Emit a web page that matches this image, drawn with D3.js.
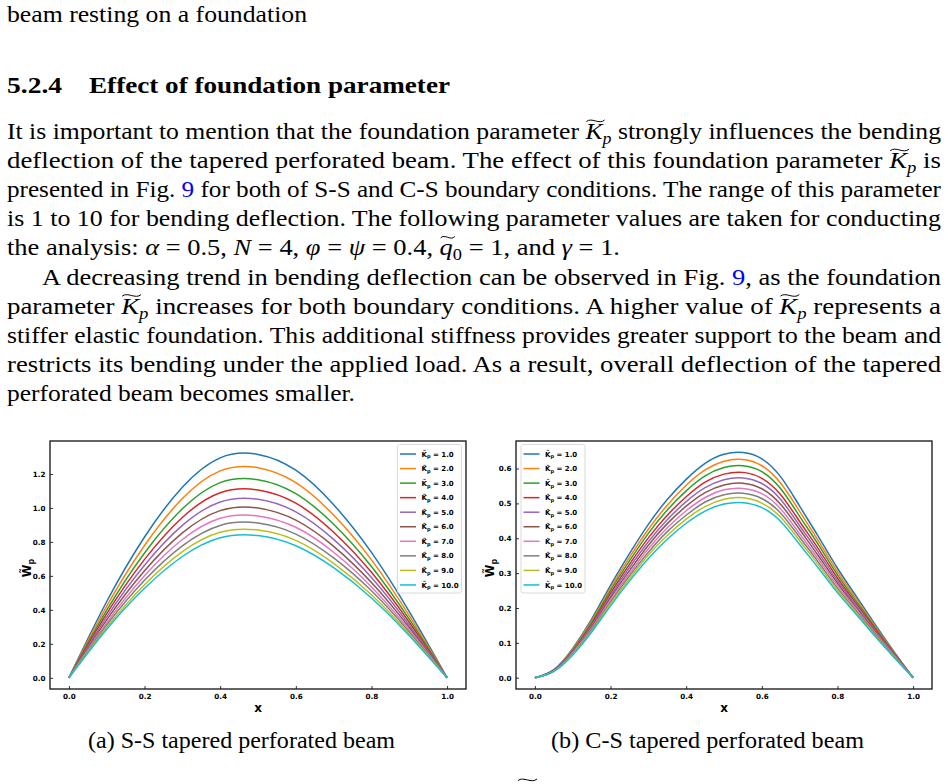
<!DOCTYPE html>
<html>
<head>
<meta charset="utf-8">
<script src="https://cdn.jsdelivr.net/npm/d3@7"></script>
<style>
  body { margin: 0; background: #fff; }
  svg { display: block; }
</style>
</head>
<body>
<svg id="page" width="948" height="784"></svg>
<script>
// ---- data ----
const kpValues = [1.0, 2.0, 3.0, 4.0, 5.0, 6.0, 7.0, 8.0, 9.0, 10.0];
const xTicks = [0.0, 0.2, 0.4, 0.6, 0.8, 1.0];
const ssYTicks = [0.0, 0.2, 0.4, 0.6, 0.8, 1.0, 1.2];
const csYTicks = [0.0, 0.1, 0.2, 0.3, 0.4, 0.5, 0.6];

// (a) S-S beam, deflection at x
const ssX = [0, 0.1, 0.2, 0.3, 0.4, 0.5, 0.6, 0.7, 0.8, 0.9, 1.0];
const ssK1  = [0, .449, .829, 1.122, 1.295, 1.315, 1.222, 1.019, .738, .389, 0];
const ssK2  = [0, .422, .779, 1.055, 1.218, 1.237, 1.149, .958, .694, .366, 0];
const ssK3  = [0, .398, .735, .995, 1.149, 1.166, 1.084, .904, .655, .345, 0];
const ssK4  = [0, .378, .697, .944, 1.089, 1.106, 1.028, .857, .621, .327, 0];
const ssK5  = [0, .359, .663, .897, 1.035, 1.051, .977, .815, .590, .311, 0];
const ssK6  = [0, .341, .630, .853, .984, .999, .928, .774, .561, .296, 0];
const ssK7  = [0, .325, .601, .814, .939, .953, .886, .739, .535, .282, 0];
const ssK8  = [0, .311, .574, .777, .897, .911, .846, .706, .512, .270, 0];
const ssK9  = [0, .297, .548, .743, .857, .870, .809, .674, .489, .258, 0];
const ssK10 = [0, .286, .527, .714, .824, .837, .777, .648, .470, .248, 0];

// (b) C-S beam
const csX = [0, .05, .1, .15, .2, .25, .3, .35, .4, .45, .5, .55, .6, .65, .7, .75, .8, .85, .9, .95, 1.0];
const csK1  = [0, .023, .084, .168, .265, .356, .440, .511, .569, .615, .641, .646, .628, .576, .492, .404, .314, .233, .152, .074, 0];
const csK2  = [0, .022, .082, .163, .257, .345, .426, .495, .552, .596, .621, .626, .608, .558, .477, .392, .304, .226, .147, .072, 0];
const csK3  = [0, .021, .079, .158, .250, .335, .414, .481, .536, .579, .603, .608, .591, .542, .463, .381, .295, .219, .143, .070, 0];
const csK4  = [0, .021, .077, .153, .242, .325, .401, .466, .519, .561, .584, .589, .572, .525, .448, .369, .286, .212, .139, .068, 0];
const csK5  = [0, .020, .075, .149, .235, .316, .390, .453, .505, .545, .568, .573, .557, .511, .436, .359, .278, .207, .135, .066, 0];
const csK6  = [0, .020, .073, .145, .229, .307, .380, .442, .492, .531, .553, .558, .542, .497, .425, .349, .271, .201, .131, .064, 0];
const csK7  = [0, .019, .071, .141, .223, .299, .370, .430, .479, .517, .539, .543, .528, .484, .413, .340, .264, .196, .128, .063, 0];
const csK8  = [0, .019, .069, .138, .217, .292, .360, .419, .466, .504, .525, .529, .514, .472, .403, .331, .257, .191, .125, .061, 0];
const csK9  = [0, .018, .067, .134, .212, .284, .352, .408, .455, .491, .512, .516, .501, .460, .393, .323, .251, .186, .121, .059, 0];
const csK10 = [0, .018, .065, .131, .206, .277, .342, .397, .443, .478, .498, .502, .488, .448, .382, .314, .244, .181, .118, .058, 0];

const ssSeries = [ssK1, ssK2, ssK3, ssK4, ssK5, ssK6, ssK7, ssK8, ssK9, ssK10];
const csSeries = [csK1, csK2, csK3, csK4, csK5, csK6, csK7, csK8, csK9, csK10];

const colors = d3.schemeCategory10;
const serif = "Liberation Serif, Times New Roman, serif";
const sans = "DejaVu Sans, sans-serif";

const svg = d3.select("#page");

// ---- page text ----
function tilde(g, x0, x1, y){
    let w = x1 - x0;
    g.append("path")
        .attr("d", `M${x0},${y + 1.5} C${x0 + w * 0.3},${y - 3} ${x0 + w * 0.7},${y + 5} ${x1},${y}`)
        .attr("fill", "none")
        .attr("stroke", "#000")
        .attr("stroke-width", 1);
}

function drawLine(g, line){
    let t = g.append("text")
        .attr("x", line.x)
        .attr("y", line.y)
        .attr("font-family", serif)
        .attr("font-size", line.size || 23)
        .attr("font-weight", line.bold ? "bold" : "normal")
        .attr("fill", "#000");
    if (line.w) t.attr("textLength", line.w).attr("lengthAdjust", "spacingAndGlyphs");

    let idx = 0;
    let marks = [];
    let shifted = false;
    for (let s of line.segs){
        let ts = t.append("tspan").text(s[0]);
        let f = s.slice(1);
        if (f.includes("i")) ts.attr("font-style", "italic");
        if (f.includes("blue")) ts.attr("fill", "#0000ff");
        if (f.includes("sub")){
            ts.attr("dy", 5).attr("font-size", 16);
            shifted = true;
        } else if (shifted){
            ts.attr("dy", -5);
            shifted = false;
        }
        if (f.includes("tilde")) marks.push(idx);
        idx += s[0].length;
    }
    for (let i of marks){
        let e = t.node().getExtentOfChar(i);
        tilde(g, e.x + 1, e.x + e.width + 2, e.y + 1);
    }
}

const text = svg.append("g");
const L0 = 139, LH = 29.1;
const lines = [
    {x: 7, y: 22, w: 300, segs: [["beam resting on a foundation"]]},
    {x: 7, y: 93, w: 55, bold: true, segs: [["5.2.4"]]},
    {x: 89, y: 93, w: 361, bold: true, segs: [["Effect of foundation parameter"]]},
    {x: 7, y: L0, w: 934, segs: [["It is important to mention that the foundation parameter "], ["K", "i", "tilde"], ["p", "i", "sub"], [" strongly influences the bending"]]},
    {x: 7, y: L0 + LH, w: 934, segs: [["deflection of the tapered perforated beam. The effect of this foundation parameter "], ["K", "i", "tilde"], ["p", "i", "sub"], [" is"]]},
    {x: 7, y: L0 + LH * 2, w: 934, segs: [["presented in Fig. "], ["9", "blue"], [" for both of S-S and C-S boundary conditions. The range of this parameter"]]},
    {x: 7, y: L0 + LH * 3, w: 934, segs: [["is 1 to 10 for bending deflection. The following parameter values are taken for conducting"]]},
    {x: 7, y: L0 + LH * 4, w: 613, segs: [["the analysis: "], ["α", "i"], [" = 0.5, "], ["N", "i"], [" = 4, "], ["φ", "i"], [" = "], ["ψ", "i"], [" = 0.4, "], ["q", "i", "tilde"], ["0", "sub"], [" = 1, and "], ["γ", "i"], [" = 1."]]},
    {x: 42, y: L0 + LH * 5, w: 899, segs: [["A decreasing trend in bending deflection can be observed in Fig. "], ["9", "blue"], [", as the foundation"]]},
    {x: 7, y: L0 + LH * 6, w: 934, segs: [["parameter "], ["K", "i", "tilde"], ["p", "i", "sub"], [" increases for both boundary conditions. A higher value of "], ["K", "i", "tilde"], ["p", "i", "sub"], [" represents a"]]},
    {x: 7, y: L0 + LH * 7, w: 934, segs: [["stiffer elastic foundation. This additional stiffness provides greater support to the beam and"]]},
    {x: 7, y: L0 + LH * 8, w: 934, segs: [["restricts its bending under the applied load. As a result, overall deflection of the tapered"]]},
    {x: 7, y: L0 + LH * 9, w: 348, segs: [["perforated beam becomes smaller."]]},
    {x: 88, y: 748, w: 307, segs: [["(a) S-S tapered perforated beam"]]},
    {x: 551, y: 748, w: 313, segs: [["(b) C-S tapered perforated beam"]]}
];
for (let l of lines) drawLine(text, l);
tilde(text, 518, 537, 779);

// ---- charts ----
function drawChart(g, cfg){
    let x = d3.scaleLinear().domain([-0.05, 1.05]).range([cfg.left, cfg.right]);
    let y = d3.scaleLinear().domain(cfg.yDomain).range([cfg.bottom, cfg.top]);
    let line = d3.line().x(d => x(d[0])).y(d => y(d[1])).curve(d3.curveNatural);

    cfg.series.forEach((vals, i) => {
        g.append("path")
            .datum(cfg.xs.map((xv, j) => [xv, vals[j]]))
            .attr("d", line)
            .attr("fill", "none")
            .attr("stroke", colors[i])
            .attr("stroke-width", 1.5);
    });

    let ax = g.append("g")
        .attr("transform", `translate(0,${cfg.bottom})`)
        .call(d3.axisBottom(x).tickValues(xTicks).tickFormat(d3.format(".1f")).tickSize(-3).tickPadding(4.5));
    let ay = g.append("g")
        .attr("transform", `translate(${cfg.left},0)`)
        .call(d3.axisLeft(y).tickValues(cfg.yTicks).tickFormat(d3.format(".1f")).tickSize(-3).tickPadding(4.5));
    for (let a of [ax, ay]){
        a.select(".domain").remove();
        a.selectAll("line").attr("stroke", "#000").attr("stroke-width", 0.8);
        a.selectAll("text")
            .attr("font-family", sans)
            .attr("font-weight", "bold")
            .attr("font-size", 7.2)
            .attr("fill", "#000");
    }

    g.append("rect")
        .attr("x", cfg.left)
        .attr("y", cfg.top)
        .attr("width", cfg.right - cfg.left)
        .attr("height", cfg.bottom - cfg.top)
        .attr("fill", "none")
        .attr("stroke", "#111")
        .attr("stroke-width", 1.3);

    // x label
    g.append("text")
        .attr("x", (x(0) + x(1)) / 2)
        .attr("y", cfg.bottom + 23)
        .attr("text-anchor", "middle")
        .attr("font-family", sans)
        .attr("font-weight", "bold")
        .attr("font-size", 12)
        .text("x");

    // y label
    let yl = g.append("text")
        .attr("transform", `translate(${cfg.ylabelX},${(cfg.top + cfg.bottom) / 2 + 3}) rotate(-90)`)
        .attr("text-anchor", "middle")
        .attr("font-family", sans)
        .attr("font-weight", "bold")
        .attr("font-size", 11.5);
    yl.append("tspan").text("W\u0303");
    yl.append("tspan").attr("dy", 3).attr("font-size", 8).text("p");

    // legend
    let lg = g.append("g").attr("transform", `translate(${cfg.legendX},${cfg.top + 3.5})`);
    lg.append("rect")
        .attr("width", 64)
        .attr("height", 148.5)
        .attr("rx", 2)
        .attr("fill", "#fff")
        .attr("fill-opacity", 0.8)
        .attr("stroke", "#d0d0d0")
        .attr("stroke-width", 0.8);
    kpValues.forEach((k, i) => {
        let ry = 9.5 + i * 14.55;
        lg.append("line")
            .attr("x1", 2.5).attr("x2", 18.5)
            .attr("y1", ry).attr("y2", ry)
            .attr("stroke", colors[i])
            .attr("stroke-width", 1.5);
        let t = lg.append("text")
            .attr("x", 24)
            .attr("y", ry + 2.6)
            .attr("font-family", sans)
            .attr("font-weight", "bold")
            .attr("font-size", 7);
        t.append("tspan").text("K\u0303");
        t.append("tspan").attr("dy", 1.8).attr("font-size", 5).text("p");
        t.append("tspan").attr("dy", -1.8).text(" = " + d3.format(".1f")(k));
    });
}

drawChart(svg.append("g"), {
    left: 50, right: 466, top: 441, bottom: 689,
    yDomain: [-0.066, 1.394],
    xs: ssX, series: ssSeries, yTicks: ssYTicks,
    legendX: 397.5, ylabelX: 30.5
});

drawChart(svg.append("g"), {
    left: 516, right: 932, top: 441, bottom: 689,
    yDomain: [-0.0324, 0.679],
    xs: csX, series: csSeries, yTicks: csYTicks,
    legendX: 521, ylabelX: 493.5
});
</script>
</body>
</html>
